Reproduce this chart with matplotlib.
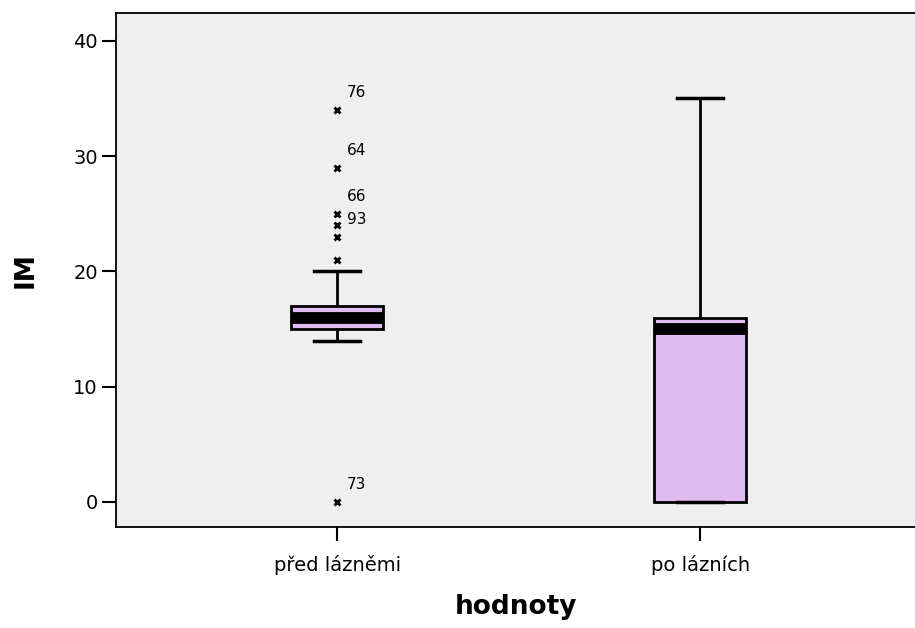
import matplotlib
matplotlib.use('Agg')
import matplotlib.pyplot as plt

plt.rcParams['font.family'] = ['DejaVu Sans']

groups = ['před lázněmi', 'po lázních']
# five-number summaries: whislo, q1, med, q3, whishi
whislo = [14, 0]
q1 = [15, 0]
med = [16, 15]
q3 = [17, 16]
whishi = [20, 35]
fliers_before = [21, 23, 24, 25, 29, 34, 0]
fliers_after = []
flier_vals = [34, 29, 25, 24, 0]
flier_ids = ['76', '64', '66', '93', '73']

stats = []
for i, name in enumerate(groups):
    stats.append({'label': name, 'whislo': whislo[i], 'q1': q1[i], 'med': med[i],
                  'q3': q3[i], 'whishi': whishi[i],
                  'fliers': [fliers_before, fliers_after][i]})

fig = plt.figure(figsize=(9.15, 6.28), dpi=100)
ax = fig.add_axes([0.1268, 0.161, 0.8732, 0.818])
ax.set_facecolor('#efefef')

ax.bxp(stats, positions=[1, 2], widths=0.255, patch_artist=True,
       capwidths=0.125,
       boxprops=dict(facecolor='#dfbbf0', edgecolor='black', linewidth=2),
       medianprops=dict(color='black', linewidth=8.5, solid_capstyle='butt'),
       whiskerprops=dict(color='black', linewidth=2),
       capprops=dict(color='black', linewidth=2.5),
       flierprops=dict(marker='x', markersize=4, markeredgewidth=2,
                       markeredgecolor='black', linestyle='none'))

for val, lab in zip(flier_vals, flier_ids):
    dy = 4 if lab == '93' else 12.5
    ax.annotate(lab, (1, val), xytext=(7, dy), textcoords='offset points',
                fontsize=11, va='center')

ax.set_xlim(0.391, 2.592)
ax.set_ylim(-2.16, 42.4)
ax.set_yticks([0, 10, 20, 30, 40])
ax.set_xticks([1, 2])
ax.set_xticklabels(groups)
ax.tick_params(axis='both', labelsize=14, length=10, width=1.5, pad=3)
ax.tick_params(axis='x', pad=10)

for s in ['left', 'bottom', 'top']:
    ax.spines[s].set_linewidth(1.3)
ax.spines['right'].set_visible(False)

ax.set_xlabel('hodnoty', fontsize=19, fontweight='bold')
ax.set_ylabel('IM', fontsize=19, fontweight='bold')
ax.xaxis.set_label_coords(0.5, -0.156)
ax.xaxis.label.set_va('center')
ax.yaxis.set_label_coords(-0.1126, 0.5)
ax.yaxis.label.set_va('center')

fig.savefig('out.png', dpi=100)
